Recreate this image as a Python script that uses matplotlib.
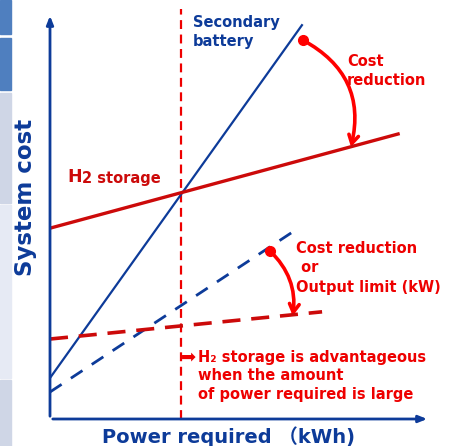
import matplotlib.pyplot as plt
from matplotlib.patches import FancyArrowPatch, Rectangle

# abstract units: power required (x) vs system cost (y), axes span 0..10
batt_x = [0.0, 6.63]
batt_y = [1.01, 9.70]
h2_x = [0.0, 9.16]
h2_y = [4.70, 7.02]
batt_new_x = [0.0, 6.39]
batt_new_y = [0.665, 4.61]
h2_new_x = [0.0, 7.16]
h2_new_y = [1.97, 2.64]
cross_x = 3.46

# cost reduction arrows: (start, end)
arrow_top = [(6.66, 9.33), (7.92, 6.70)]
arrow_bot = [(5.79, 4.14), (6.39, 2.54)]

BLUE = '#0d3b99'
RED = '#ee0000'
DRED = '#cc0a0a'

plt.rcParams['font.family'] = ['DejaVu Sans', 'Noto Sans CJK JP']

fig = plt.figure(figsize=(4.57, 4.46), dpi=100)
W, H = 457, 446

# slide sidebar blocks
side = [(0, 34, '#4f7fbf'), (38, 90, '#4f7fbf'), (93, 203, '#cfd6e6'),
        (205, 378, '#e6eaf4'), (380, 446, '#cfd6e6')]
for y0, y1, c in side:
    fig.patches.append(Rectangle((0, 1 - y1 / H), 11 / W, (y1 - y0) / H,
                                 transform=fig.transFigure, color=c, zorder=0))

ox, oy = 50, 419
ax = fig.add_axes([ox / W, (H - oy) / H, 380 / W, 406 / H])
ax.set_xlim(0, 10)
ax.set_ylim(0, 10)
ax.axis('off')

# axes with arrows
ax.annotate('', xy=(0, 10), xytext=(0, 0),
            arrowprops=dict(arrowstyle='-|>,head_length=0.5,head_width=0.2',
                            color=BLUE, lw=2), annotation_clip=False)
ax.annotate('', xy=(10, 0), xytext=(0, 0),
            arrowprops=dict(arrowstyle='-|>,head_length=0.5,head_width=0.2',
                            color=BLUE, lw=2), annotation_clip=False)

ax.plot([cross_x, cross_x], [0, 10.1], color=RED, lw=1.6, ls=(0, (4, 2.5)), clip_on=False)
ax.plot(batt_x, batt_y, color=BLUE, lw=1.6)
ax.plot(h2_x, h2_y, color=DRED, lw=2.4)
ax.plot(batt_new_x, batt_new_y, color=BLUE, lw=2, ls=(0, (5, 4)))
ax.plot(h2_new_x, h2_new_y, color=DRED, lw=2.6, ls=(0, (5, 3)))

for (s, e), rad in [(arrow_top, -0.38), (arrow_bot, -0.25)]:
    ax.plot(*s, 'o', color='#ff0000', ms=7)
    ax.add_patch(FancyArrowPatch(s, e, connectionstyle=f'arc3,rad={rad}',
                                 arrowstyle='->,head_length=6,head_width=3.5',
                                 color='#ff0000', lw=2.6, shrinkA=0, shrinkB=0))

def px(x, y):
    return ((x - ox) / 38.0, (oy - y) / 40.6)

fs = 10.5
ax.text(*px(193, 32), 'Secondary\nbattery', color=BLUE, fontsize=10.5,
        fontweight='bold', va='center', linespacing=1.3)
ax.text(*px(347, 71), 'Cost\nreduction', color=RED, fontsize=fs,
        fontweight='bold', va='center', linespacing=1.3)
ax.text(*px(67, 177), 'H', color=DRED, fontsize=12.5, fontweight='bold', va='center')
ax.text(*px(82, 178), '2 storage', color=DRED, fontsize=10.5, fontweight='bold', va='center')
ax.text(*px(296, 268), 'Cost reduction\n or\nOutput limit (kW)', color=RED,
        fontsize=fs, fontweight='bold', va='center', linespacing=1.35)
ax.text(*px(181, 357), '\u27a1', color=RED, fontsize=13, va='center')
ax.text(*px(198, 376), 'H\u2082 storage is advantageous\nwhen the amount\nof power required is large',
        color=RED, fontsize=fs, fontweight='bold', va='center', linespacing=1.3)

fig.text(228 / W, 1 - 437 / H, 'Power required \uff08kWh)', color=BLUE, fontsize=14,
         fontweight='bold', ha='center', va='center')
fig.text(26 / W, 1 - 197 / H, 'System cost', color=BLUE, fontsize=16.5,
         fontweight='bold', ha='center', va='center', rotation=90)

fig.savefig('out.png', dpi=100)
